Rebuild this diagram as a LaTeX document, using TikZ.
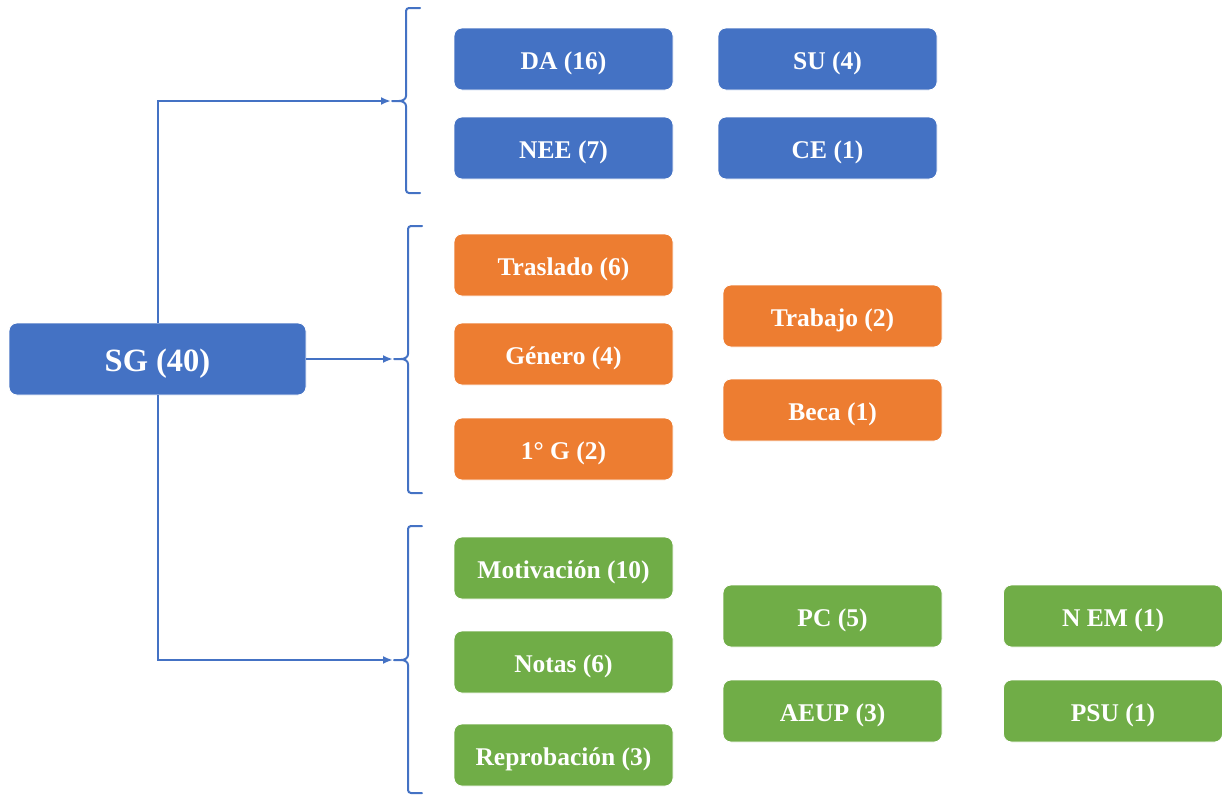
\documentclass[tikz,border=0pt]{standalone}
\usepackage{fontspec}
\setmainfont{Liberation Serif}
\usetikzlibrary{arrows.meta}
\definecolor{cblue}{HTML}{4472C4}
\definecolor{corange}{HTML}{ED7D31}
\definecolor{cgreen}{HTML}{70AD47}
\tikzset{
  box/.style={rounded corners=8pt, minimum width=219pt, minimum height=62pt,
    inner sep=0pt, text=white, draw=white, line width=0.8pt,
    text height=21.8pt, text depth=0pt,
    font=\bfseries\fontsize{25.5}{30}\selectfont},
  bluebox/.style={box, fill=cblue},
  orangebox/.style={box, fill=corange},
  greenbox/.style={box, fill=cgreen},
  link/.style={draw=cblue, line width=2pt, -{Latex[length=10pt,width=8pt]}},
  bracket/.style={draw=cblue, line width=2pt, line join=round, line cap=round}
}
% draws a bracket at x=#1 from y=#2 to y=#3 with its tip at y=#4
\newcommand{\groupbracket}[4]{%
  \draw[bracket, rounded corners=3pt] (#1+14,#2) -- (#1,#2) -- (#1,#4-5);
  \draw[bracket] (#1,#4-5) to[out=-90,in=0] (#1-7,#4) -- (#1-14,#4);
  \draw[bracket] (#1,#4+5) to[out=90,in=0] (#1-7,#4);
  \draw[bracket, rounded corners=3pt] (#1,#4+5) -- (#1,#3) -- (#1+14,#3);
}
\begin{document}
\begin{tikzpicture}[x=1pt,y=-1pt]
\useasboundingbox (0,0) rectangle (1222,795);

% root
\node[bluebox, minimum width=297pt, minimum height=72pt, text height=24.4pt,
  font=\bfseries\fontsize{32.5}{38}\selectfont] (sg) at (157.5,359) {SG (40)};

% first group
\node[bluebox] (da)  at (563.5,59)  {DA (16)};
\node[bluebox] (su)  at (827.5,59)  {SU (4)};
\node[bluebox] (nee) at (563.5,148) {NEE (7)};
\node[bluebox] (ce)  at (827.5,148) {CE (1)};

% second group
\node[orangebox] (tras) at (563.5,265) {Traslado (6)};
\node[orangebox] (gen)  at (563.5,354) {Género (4)};
\node[orangebox] (pg)   at (563.5,449) {1° G (2)};
\node[orangebox] (trab) at (832.5,316) {Trabajo (2)};
\node[orangebox] (beca) at (832.5,410) {Beca (1)};

% third group
\node[greenbox] (mot)  at (563.5,568) {Motivación (10)};
\node[greenbox] (not)  at (563.5,662) {Notas (6)};
\node[greenbox] (rep)  at (563.5,755) {Reprobación (3)};
\node[greenbox] (pc)   at (832.5,616) {PC (5)};
\node[greenbox] (aeup) at (832.5,711) {AEUP (3)};
\node[greenbox] (nem)  at (1113,616)  {N EM (1)};
\node[greenbox] (psu)  at (1113,711)  {PSU (1)};

% brackets
\groupbracket{406}{8}{193}{101}
\groupbracket{408}{226}{493}{359}
\groupbracket{408}{526}{793}{660}

% connectors
\coordinate (t1) at (391,101);
\coordinate (t2) at (393,359);
\coordinate (t3) at (393,660);
\draw[link] (sg.north) |- (t1);
\draw[link] (sg.east) -- (t2);
\draw[link] (sg.south) |- (t3);
\end{tikzpicture}
\end{document}
